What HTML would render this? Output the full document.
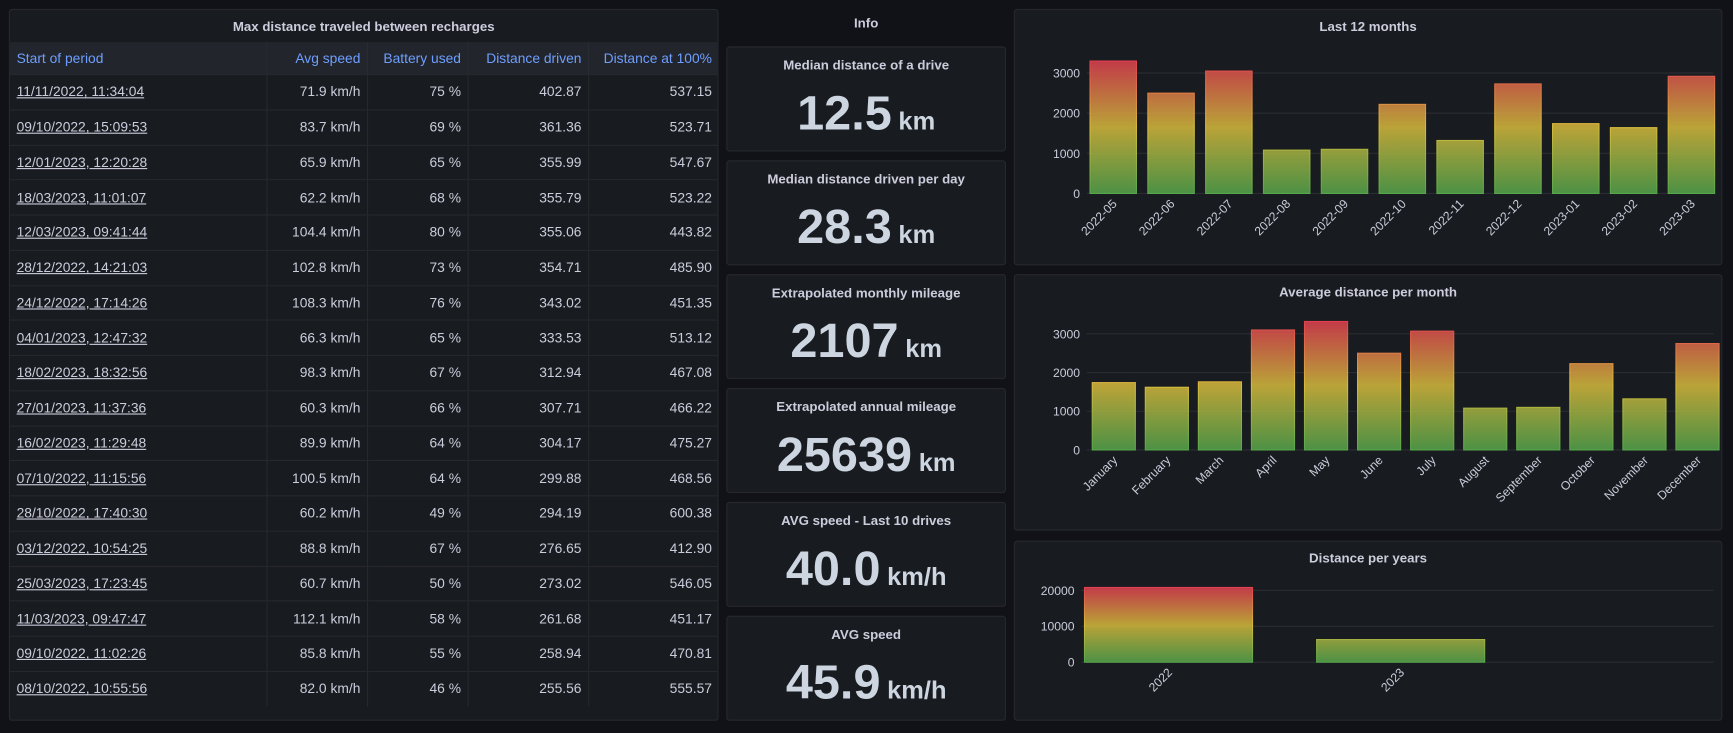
<!DOCTYPE html>
<html><head><meta charset="utf-8">
<style>
html,body{margin:0;padding:0;background:#111217;width:1733px;height:732px;overflow:hidden;font-family:"Liberation Sans",sans-serif;}
#wrap{position:absolute;left:0;top:0;width:1568px;height:663px;transform:scale(1.1055);transform-origin:0 0;}
.panel{position:absolute;background:#181b1f;border:1px solid #26282d;border-radius:3px;box-sizing:border-box;}
.ptitle{position:absolute;left:0;right:0;top:8px;text-align:center;color:#ccccdc;font-size:12px;font-weight:bold;}
table{position:absolute;left:0;top:29px;border-collapse:collapse;width:641px;font-size:12.5px;color:#ccccdc;}
th{background:#22252b;color:#6e9fff;font-weight:normal;height:29px;padding:0 6px;text-align:right;border-right:1px solid #2a2c31;}
th:first-child,td:first-child{text-align:left;}
td{height:30.75px;padding:0 6px;text-align:right;border-top:1px solid #26282d;border-right:1px solid #26282d;}
td:first-child{text-decoration:underline;}
th:last-child,td:last-child{border-right:none;}
.stat .ptitle{top:9px;}
.val{position:absolute;left:0;right:0;top:35px;text-align:center;color:#ccd5e0;font-size:44px;font-weight:bold;}
.val span{font-size:23px;margin-left:6px;}
svg text{font-family:"Liberation Sans",sans-serif;}
</style></head><body>
<div id="wrap">
<div class="panel" style="left:8px;top:8px;width:642px;height:644px">
<div class="ptitle">Max distance traveled between recharges</div>
<table>
<thead><tr>
<th style="width:220px">Start of period</th>
<th style="width:78px">Avg speed</th>
<th style="width:78px">Battery used</th>
<th style="width:96px">Distance driven</th>
<th>Distance at 100%</th>
</tr></thead>
<tbody id="tb"></tbody>
</table>
</div>
<div class="ptitle" style="left:657px;width:253px;right:auto;top:14px">Info</div>
<div id="stats"></div>
<div class="panel" style="left:917px;top:8px;width:641px;height:232px"><div class="ptitle">Last 12 months</div></div>
<div class="panel" style="left:917px;top:248px;width:641px;height:232px"><div class="ptitle">Average distance per month</div></div>
<div class="panel" style="left:917px;top:489px;width:641px;height:163px"><div class="ptitle">Distance per years</div></div>
<svg id="charts" width="1568" height="663" style="position:absolute;left:0;top:0"></svg>
</div>
<script>
const rows=[["11/11/2022, 11:34:04","71.9 km/h","75 %","402.87","537.15"],["09/10/2022, 15:09:53","83.7 km/h","69 %","361.36","523.71"],["12/01/2023, 12:20:28","65.9 km/h","65 %","355.99","547.67"],["18/03/2023, 11:01:07","62.2 km/h","68 %","355.79","523.22"],["12/03/2023, 09:41:44","104.4 km/h","80 %","355.06","443.82"],["28/12/2022, 14:21:03","102.8 km/h","73 %","354.71","485.90"],["24/12/2022, 17:14:26","108.3 km/h","76 %","343.02","451.35"],["04/01/2023, 12:47:32","66.3 km/h","65 %","333.53","513.12"],["18/02/2023, 18:32:56","98.3 km/h","67 %","312.94","467.08"],["27/01/2023, 11:37:36","60.3 km/h","66 %","307.71","466.22"],["16/02/2023, 11:29:48","89.9 km/h","64 %","304.17","475.27"],["07/10/2022, 11:15:56","100.5 km/h","64 %","299.88","468.56"],["28/10/2022, 17:40:30","60.2 km/h","49 %","294.19","600.38"],["03/12/2022, 10:54:25","88.8 km/h","67 %","276.65","412.90"],["25/03/2023, 17:23:45","60.7 km/h","50 %","273.02","546.05"],["11/03/2023, 09:47:47","112.1 km/h","58 %","261.68","451.17"],["09/10/2022, 11:02:26","85.8 km/h","55 %","258.94","470.81"],["08/10/2022, 10:55:56","82.0 km/h","46 %","255.56","555.57"]];
const tb=document.getElementById('tb');
rows.forEach(r=>{const tr=document.createElement('tr');


r.forEach((c,i)=>{const td=document.createElement('td');td.textContent=c;


tr.appendChild(td);});tb.appendChild(tr);});

const statTitles=["Median distance of a drive","Median distance driven per day","Extrapolated monthly mileage","Extrapolated annual mileage","AVG speed - Last 10 drives","AVG speed"];
const statVals=["12.5","28.3","2107","25639","40.0","45.9"];
const statUnits=["km","km","km","km","km/h","km/h"];
const st=document.getElementById('stats');
statTitles.forEach((t,i)=>{const d=document.createElement('div');d.className='panel stat';


d.style.cssText=`left:657px;top:${42+i*103}px;width:253px;height:95px`;
d.innerHTML=`<div class="ptitle">${t}</div><div class="val">${statVals[i]}<span>${statUnits[i]}</span></div>`;
st.appendChild(d);});

const months12=["2022-05","2022-06","2022-07","2022-08","2022-09","2022-10","2022-11","2022-12","2023-01","2023-02","2023-03"];
const values12=[3300,2500,3050,1080,1100,2220,1320,2730,1740,1640,2920];
const ticks12=[0,1000,2000,3000];
const monthNames=["January","February","March","April","May","June","July","August","September","October","November","December"];
const valuesAvg=[1740,1620,1760,3100,3320,2500,3070,1080,1100,2230,1320,2750];
const ticksAvg=[0,1000,2000,3000];
const years=["2022","2023"];
const valuesYears=[20800,6300];
const ticksYears=[0,10000,20000];

const svg=document.getElementById('charts');const NS='http://www.w3.org/2000/svg';
function el(tag,attrs,parent){const e=document.createElementNS(NS,tag);for(const k in attrs)e.setAttribute(k,attrs[k]);(parent||svg).appendChild(e);return e;}
const defs=el('defs',{});
function chart(id,cats,vals,ticks,o){
 const y=v=>o.y0-v*o.pxPer;
 const maxV=Math.max(...vals);
 const g=el('linearGradient',{id:id,gradientUnits:'userSpaceOnUse',x1:0,x2:0,y1:y(0),y2:y(maxV)},defs);
 [[0,'#56a64b'],[0.5,'#d6bb3c'],[1,'#e0404f']].forEach(s=>el('stop',{offset:s[0],'stop-color':s[1]},g));
 ticks.forEach(t=>{
  const l=el('line',{x1:o.x0,x2:1550,y1:y(t),y2:y(t),stroke:'#2a2c31','stroke-width':1});
  
  
  const tx=el('text',{x:o.x0-6,y:y(t)+4,'text-anchor':'end','font-size':11,fill:'#ccccdc'});tx.textContent=t;
  
  
 });
 cats.forEach((c,i)=>{
  const x=o.x0+o.off+i*o.pitch;const v=vals[i];
  const r=el('rect',{x:x,y:y(v),width:o.bw,height:v*o.pxPer,fill:`url(#${id})`,'fill-opacity':0.85,stroke:`url(#${id})`,'stroke-width':1});
  
  
  const cx=x+o.bw/2+4, cy=o.y0+10;
  const tx=el('text',{x:cx,y:cy,'text-anchor':'end','font-size':11,fill:'#ccccdc',transform:`rotate(-45 ${cx} ${cy})`});tx.textContent=c;
  
  
 });
}
chart('g1',months12,values12,ticks12,{x0:983,y0:175,pxPer:0.0363,off:3,pitch:52.3,bw:42});
chart('g2',monthNames,valuesAvg,ticksAvg,{x0:983,y0:407,pxPer:0.035,off:5,pitch:48.0,bw:39});
chart('g3',years,valuesYears,ticksYears,{x0:978,y0:599,pxPer:0.00325,off:3,pitch:210,bw:152});
</script>
</body></html>
